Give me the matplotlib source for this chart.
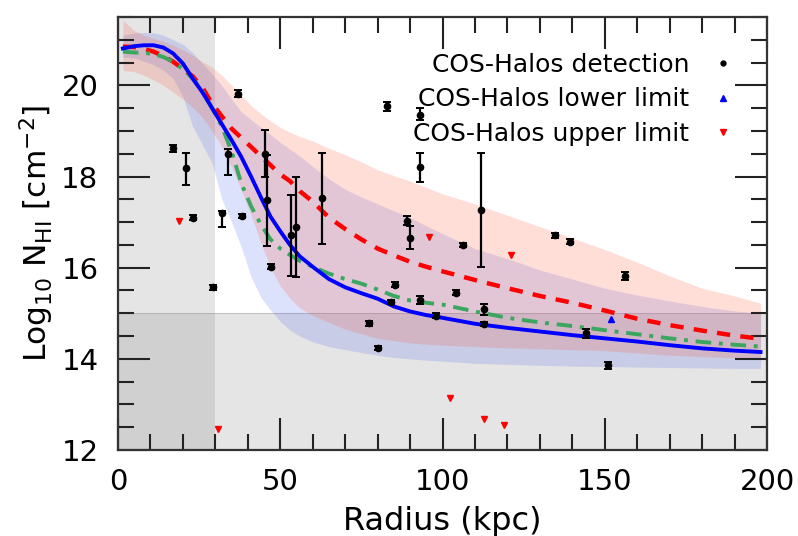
import numpy as np
import matplotlib
matplotlib.use("Agg")
import matplotlib.pyplot as plt
from matplotlib.ticker import MultipleLocator
from matplotlib.lines import Line2D

# ---- model curves (radius grid in kpc, log10 N_HI) ----
radius = [1.5, 5, 8, 11, 14, 17, 20, 23, 26, 29, 32, 35, 38, 41, 44, 47, 50, 53, 56,
          60, 65, 70, 75, 80, 85, 90, 95, 100, 110, 120, 130, 140, 150, 160, 170,
          180, 190, 198]
median_blue = [20.81, 20.86, 20.88, 20.88, 20.83, 20.7, 20.48, 20.15, 19.85, 19.5,
               19.15, 18.8, 18.43, 18.0, 17.55, 17.12, 16.8, 16.5, 16.25, 16.02,
               15.75, 15.57, 15.44, 15.32, 15.15, 15.04, 14.96, 14.9, 14.77, 14.68,
               14.6, 14.52, 14.45, 14.38, 14.3, 14.23, 14.18, 14.15]
median_red = [20.85, 20.84, 20.8, 20.74, 20.64, 20.52, 20.36, 20.2, 19.95, 19.6,
              19.32, 19.05, 18.85, 18.65, 18.45, 18.25, 18.05, 17.9, 17.68, 17.45,
              17.1, 16.85, 16.62, 16.42, 16.27, 16.13, 16.02, 15.92, 15.73, 15.55,
              15.38, 15.23, 15.06, 14.88, 14.74, 14.62, 14.51, 14.44]
median_green = [20.74, 20.72, 20.71, 20.69, 20.62, 20.52, 20.36, 20.15, 19.88, 19.5,
                19.1, 18.55, 17.85, 17.35, 16.95, 16.62, 16.42, 16.28, 16.15, 16.02,
                15.87, 15.75, 15.65, 15.52, 15.38, 15.28, 15.23, 15.19, 15.04, 14.9,
                14.8, 14.72, 14.63, 14.54, 14.45, 14.37, 14.31, 14.27]
red_hi = [21.43, 21.2, 21.1, 21.03, 20.97, 20.88, 20.78, 20.66, 20.52, 20.4, 20.22,
          20.0, 19.78, 19.56, 19.38, 19.22, 19.08, 18.97, 18.88, 18.78, 18.62, 18.48,
          18.32, 18.15, 18.02, 17.9, 17.76, 17.62, 17.4, 17.15, 16.9, 16.65, 16.4,
          16.12, 15.82, 15.55, 15.38, 15.22]
red_lo = [20.33, 20.3, 20.22, 20.12, 20.0, 19.85, 19.7, 19.52, 19.3, 19.0, 18.65,
          18.2, 17.7, 17.15, 16.55, 16.0, 15.6, 15.32, 15.12, 14.95, 14.8, 14.65,
          14.55, 14.45, 14.4, 14.35, 14.32, 14.3, 14.27, 14.24, 14.22, 14.2, 14.18,
          14.13, 14.08, 14.05, 14.02, 14.0]
blue_hi = [21.1, 21.15, 21.16, 21.15, 21.1, 21.0, 20.9, 20.72, 20.48, 20.25, 20.0,
           19.7, 19.42, 19.25, 19.08, 18.92, 18.75, 18.6, 18.45, 18.22, 17.95, 17.72,
           17.55, 17.4, 17.25, 17.1, 16.92, 16.75, 16.42, 16.2, 15.95, 15.75, 15.55,
           15.4, 15.27, 15.15, 15.05, 15.0]
blue_lo = [20.62, 20.6, 20.53, 20.45, 20.33, 20.15, 19.75, 19.1, 18.7, 18.3, 17.5,
           17.0, 16.45, 15.8, 15.35, 15.07, 14.82, 14.63, 14.5, 14.37, 14.27, 14.2,
           14.14, 14.08, 14.03, 14.0, 13.97, 13.95, 13.9, 13.88, 13.86, 13.84, 13.83,
           13.82, 13.81, 13.8, 13.79, 13.79]

# ---- COS-Halos data ----
det_x = [17.0, 21.0, 23.2, 32.0, 38.1, 29.2, 37.1, 34.0, 45.3, 46.0, 47.2, 53.3, 54.9,
         63.0, 82.8, 93.1, 93.1, 112.0, 89.2, 90.0, 106.2, 85.4, 84.0, 93.1, 104.2,
         98.0, 112.8, 112.8, 77.4, 80.2, 134.7, 139.3, 156.2, 144.2, 151.1]
det_y = [18.62, 18.18, 17.1, 17.19, 17.13, 15.57, 19.82, 18.5, 18.5, 17.48, 16.02,
         16.71, 16.9, 17.52, 19.54, 19.35, 18.21, 17.26, 17.03, 16.66, 16.5, 15.63,
         15.25, 15.29, 15.45, 14.95, 15.09, 14.76, 14.78, 14.24, 16.71, 16.57, 15.82,
         14.56, 13.86]
det_err_lo = [0.08, 0.37, 0.05, 0.3, 0.05, 0.05, 0.08, 0.47, 0.5, 1.0, 0.05, 0.9, 1.1,
              1.0, 0.1, 0.1, 0.32, 1.25, 0.1, 0.25, 0.05, 0.05, 0.05, 0.08, 0.05,
              0.05, 0.12, 0.05, 0.05, 0.05, 0.05, 0.05, 0.08, 0.1, 0.08]
det_err_hi = [0.08, 0.33, 0.05, 0.05, 0.05, 0.05, 0.08, 0.1, 0.52, 1.0, 0.05, 0.88, 1.1,
              1.0, 0.1, 0.15, 0.3, 1.25, 0.1, 0.25, 0.05, 0.05, 0.05, 0.08, 0.05,
              0.05, 0.12, 0.05, 0.05, 0.05, 0.05, 0.05, 0.08, 0.1, 0.08]
lower_x = [151.8]
lower_y = [14.87]
upper_x = [18.9, 30.9, 95.9, 121.1, 102.3, 112.8, 119.0]
upper_y = [17.03, 12.45, 16.68, 16.28, 13.15, 12.69, 12.55]

legend_labels = ["COS-Halos detection", "COS-Halos lower limit", "COS-Halos upper limit"]

fig = plt.figure(figsize=(7.98, 5.36), dpi=100)
ax = fig.add_axes([118/798, 1-450/536, (767-118)/798, (450-17)/536])

ax.axvspan(0, 30, facecolor='gray', edgecolor='none', alpha=0.2, zorder=0)
ax.axhspan(12, 15, facecolor='gray', edgecolor='none', alpha=0.2, zorder=0)
ax.axhline(15, color='gray', lw=0.8, alpha=0.35, zorder=0)

ax.fill_between(radius, blue_lo, blue_hi, color='#3a55f0', alpha=0.17, lw=0, zorder=1)
ax.fill_between(radius, red_lo, red_hi, color='#ff5a40', alpha=0.2, lw=0, zorder=1)

ax.plot(radius, median_red, color='red', ls=(0, (3, 2.3)), lw=3.2, zorder=3)
ax.plot(radius, median_green, color='#3aa660', ls=(0, (4, 2, 1, 2)), lw=2.8, zorder=3)
ax.plot(radius, median_blue, color='blue', ls='-', lw=2.8, zorder=4)

ax.errorbar(det_x, det_y, yerr=[det_err_lo, det_err_hi], fmt='o', color='black',
            ms=4.5, elinewidth=1.6, capsize=3, capthick=1.4, zorder=6)
ax.plot(lower_x, lower_y, ls='none', marker='^', color='blue', ms=5, zorder=6)
ax.plot(upper_x, upper_y, ls='none', marker='v', color='red', ms=5, zorder=6)

ax.set_xlim(0, 200)
ax.set_ylim(12, 21.5)
ax.xaxis.set_major_locator(MultipleLocator(50))
ax.xaxis.set_minor_locator(MultipleLocator(10))
ax.yaxis.set_major_locator(MultipleLocator(2))
ax.yaxis.set_minor_locator(MultipleLocator(0.5))
ax.tick_params(which='both', direction='in', top=True, right=True, width=1.5,
               color='#222222')
ax.tick_params(which='major', length=23, labelsize=21)
ax.tick_params(axis='y', which='major', pad=14)
ax.tick_params(axis='x', which='major', pad=13)
ax.tick_params(which='minor', length=11.5)
for s in ax.spines.values():
    s.set_linewidth(1.6)
    s.set_color('#333333')

ax.set_xlabel('Radius (kpc)', fontsize=23, labelpad=7)
ax.set_ylabel(r'Log$_{10}$ N$_{\rm HI}$ [cm$^{-2}$]', fontsize=22.5, labelpad=4)

handles = [
    Line2D([], [], ls='none', marker='o', color='black', ms=3.5),
    Line2D([], [], ls='none', marker='^', color='blue', ms=4),
    Line2D([], [], ls='none', marker='v', color='red', ms=4),
]
leg = ax.legend(handles, legend_labels, loc='upper right', frameon=False,
                markerfirst=False, fontsize=18, labelspacing=0.42, handlelength=0.8,
                handletextpad=0.95, borderaxespad=0.0, borderpad=0.0,
                bbox_to_anchor=(1.0 - 34/649, 1.0 - 36/433))

fig.savefig('out.png', dpi=100)
